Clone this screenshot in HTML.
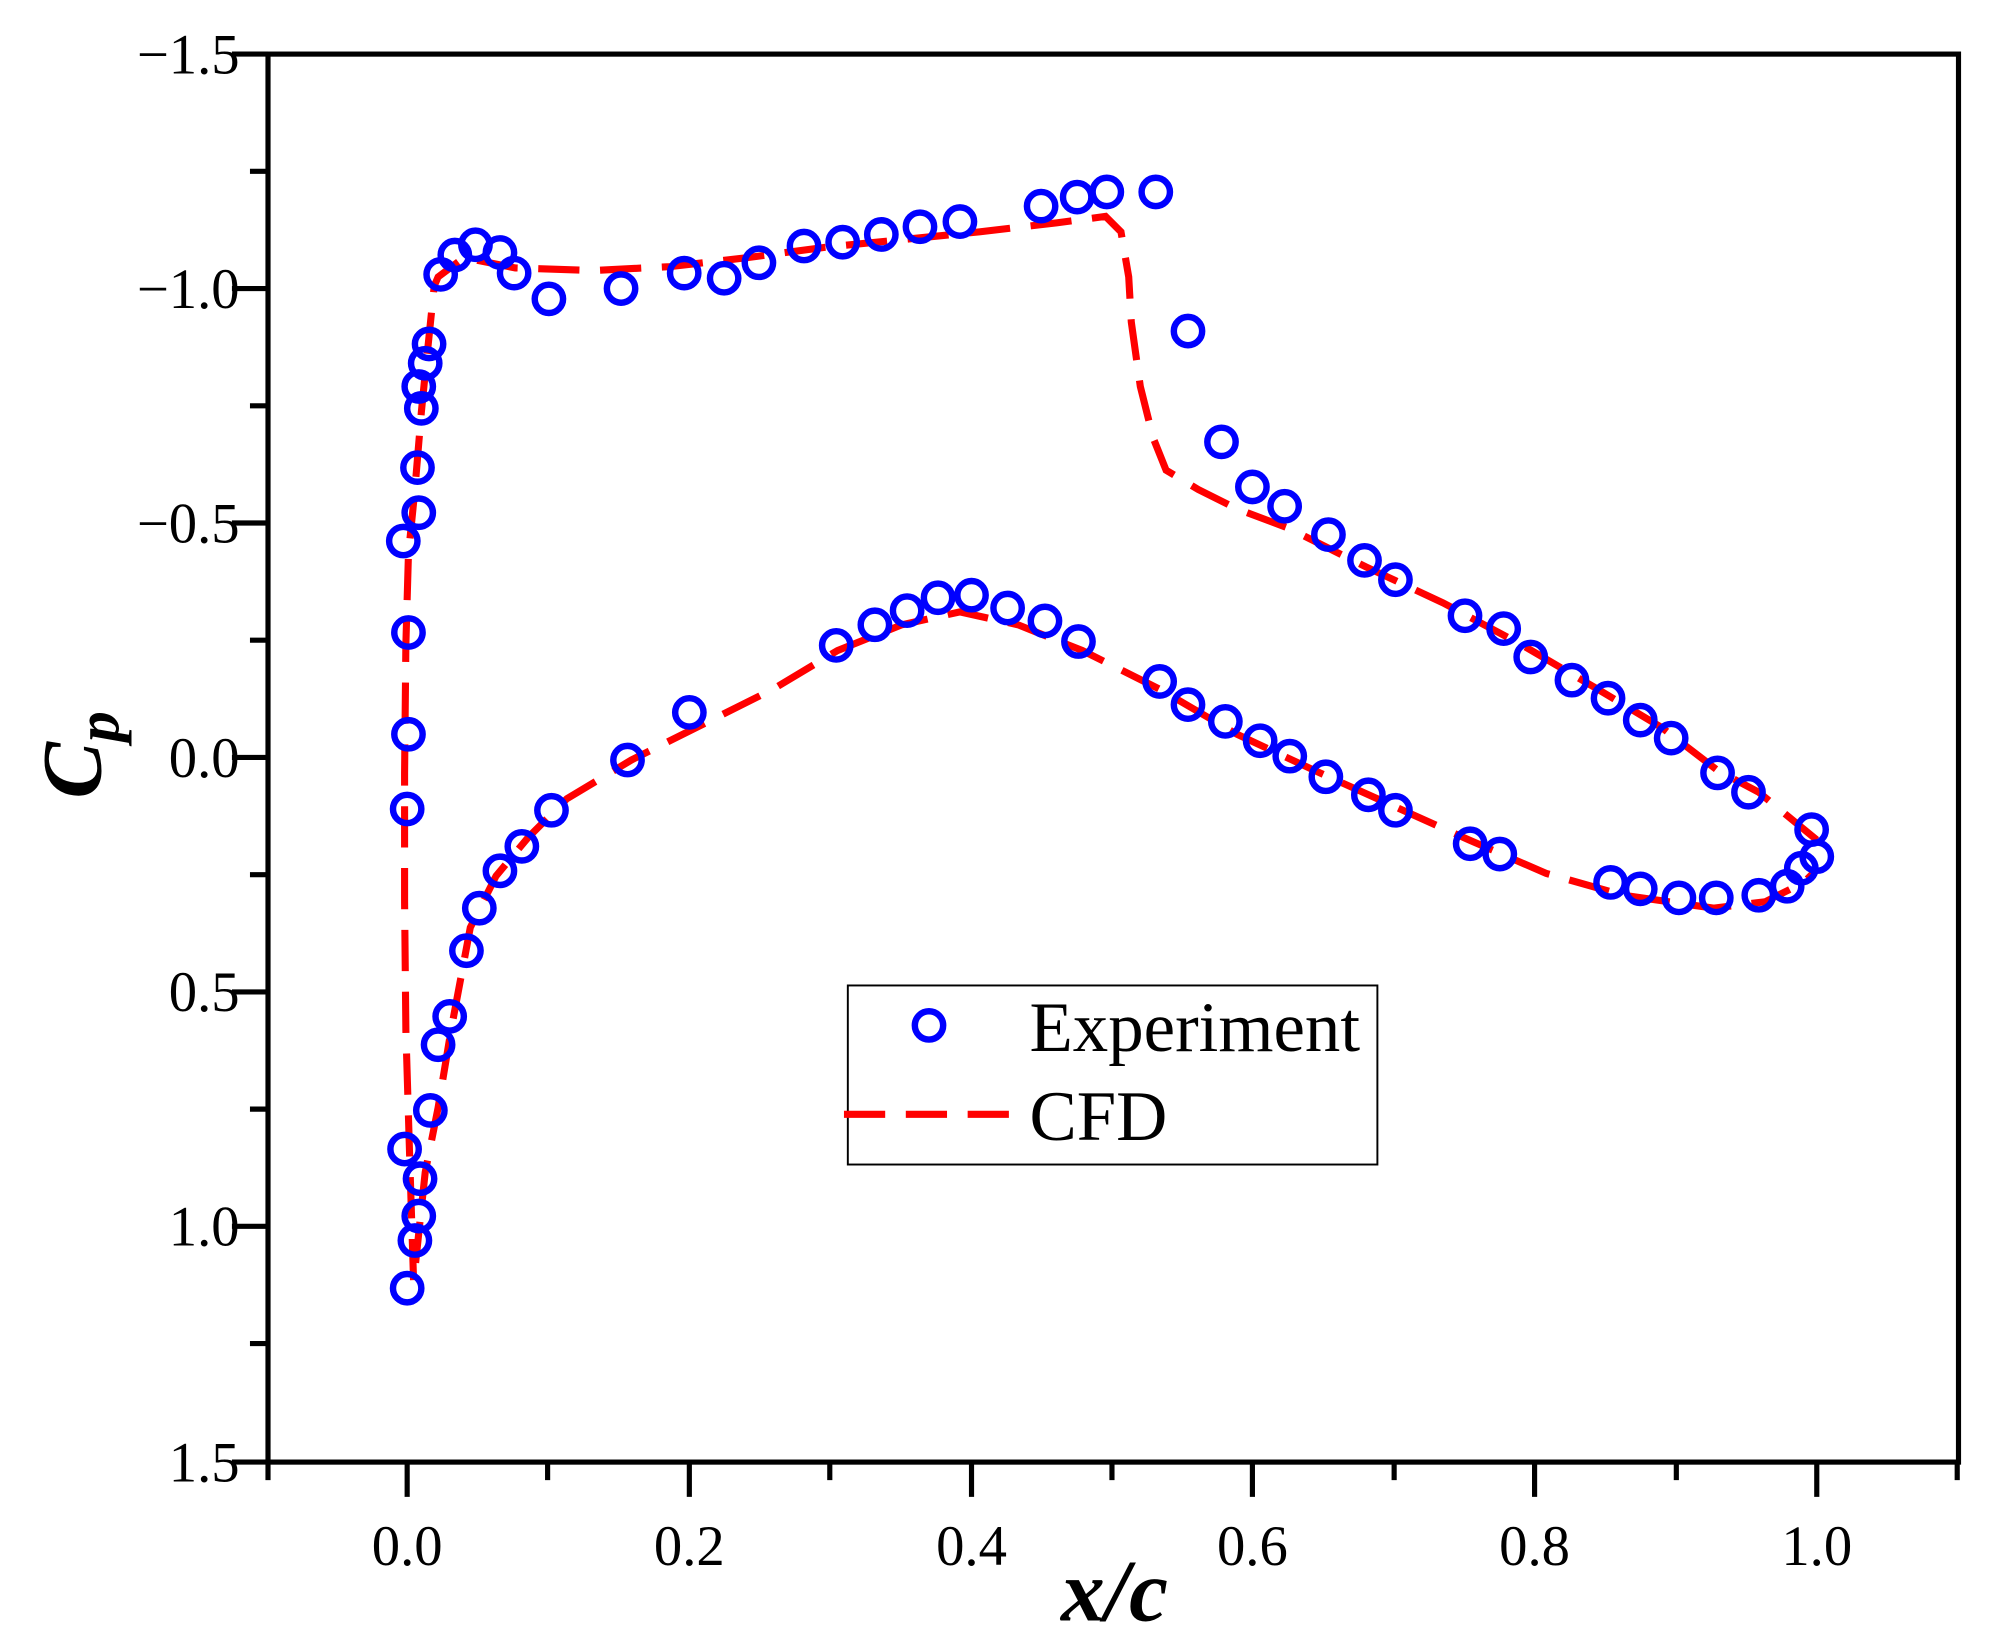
<!DOCTYPE html>
<html><head><meta charset="utf-8"><style>html,body{margin:0;padding:0;background:#fff}svg{display:block}</style></head>
<body>
<svg width="1992" height="1636" viewBox="0 0 1546 1270" preserveAspectRatio="none" xmlns="http://www.w3.org/2000/svg" font-family="Liberation Serif, serif">
<rect width="1546" height="1270" fill="#fff"/>
<!-- CFD -->
<path fill="none" stroke="#ff0000" stroke-width="5.5" stroke-dasharray="32,16" d="M1410,652 L1365,615 L1333,598 L1290,565 L1240,535 L1180,500 L1120,468 L1060,440 L1000,410 L960,395 L930,380 L905,365 L895,340 L885,300 L878,250 L876,215 L870,180 L858,168 L820,173 L760,180 L700,186 L640,192 L580,200 L520,207 L460,210 L400,208 L360,200 L340,215 L337,222 L330,290 L327,320 L322,380 L317,430 L315,500 L314,600 L314,700 L315,800 L318,900 L321,995 L330,910 L340,860 L350,800 L365,720 L385,680 L410,650 L440,620 L490,590 L540,565 L600,535 L650,505 L700,485 L745,475 L790,485 L840,505 L900,535 L960,570 L1020,598 L1080,625 L1140,652 L1200,678 L1260,695 L1330,705 L1370,700 L1400,685 L1410,675"/>
<!-- markers -->
<g fill="none" stroke="#0000ff" stroke-width="5">
<circle cx="316" cy="1000" r="11"/><circle cx="322" cy="963" r="11"/><circle cx="325" cy="944" r="11"/><circle cx="326" cy="915" r="11"/><circle cx="314" cy="892" r="11"/><circle cx="334" cy="862" r="11"/><circle cx="340" cy="811" r="11"/><circle cx="349" cy="789" r="11"/><circle cx="362" cy="738" r="11"/><circle cx="372" cy="705" r="11"/><circle cx="388" cy="676" r="11"/><circle cx="405" cy="657" r="11"/><circle cx="428" cy="629" r="11"/><circle cx="487" cy="590" r="11"/><circle cx="535" cy="553" r="11"/><circle cx="649" cy="501" r="11"/><circle cx="679" cy="485" r="11"/><circle cx="704" cy="474" r="11"/><circle cx="728" cy="464" r="11"/><circle cx="754" cy="462" r="11"/><circle cx="782" cy="472" r="11"/><circle cx="811" cy="482" r="11"/><circle cx="837" cy="498" r="11"/><circle cx="900" cy="529" r="11"/><circle cx="922" cy="547" r="11"/><circle cx="951" cy="560" r="11"/><circle cx="978" cy="575" r="11"/><circle cx="1001" cy="587" r="11"/><circle cx="1029" cy="603" r="11"/><circle cx="1062" cy="617" r="11"/><circle cx="1083" cy="629" r="11"/><circle cx="1141" cy="655" r="11"/><circle cx="1164" cy="663" r="11"/><circle cx="1250" cy="685" r="11"/><circle cx="1273" cy="690" r="11"/><circle cx="1303" cy="697" r="11"/><circle cx="1332" cy="697" r="11"/><circle cx="1365" cy="695" r="11"/><circle cx="1387" cy="688" r="11"/><circle cx="1398" cy="674" r="11"/><circle cx="1410" cy="665" r="11"/><circle cx="1406" cy="644" r="11"/>
<circle cx="316" cy="628" r="11"/><circle cx="317" cy="570" r="11"/><circle cx="317" cy="491" r="11"/><circle cx="313" cy="420" r="11"/><circle cx="325" cy="398" r="11"/><circle cx="324" cy="363" r="11"/><circle cx="327" cy="317" r="11"/><circle cx="325" cy="300" r="11"/><circle cx="330" cy="282" r="11"/><circle cx="333" cy="267" r="11"/><circle cx="342" cy="213" r="11"/><circle cx="353" cy="198" r="11"/><circle cx="369" cy="190" r="11"/><circle cx="388" cy="196" r="11"/><circle cx="399" cy="212" r="11"/><circle cx="426" cy="232" r="11"/><circle cx="482" cy="224" r="11"/><circle cx="531" cy="212" r="11"/><circle cx="562" cy="216" r="11"/><circle cx="589" cy="204" r="11"/><circle cx="624" cy="191" r="11"/><circle cx="654" cy="188" r="11"/><circle cx="684" cy="182" r="11"/><circle cx="714" cy="176" r="11"/><circle cx="745" cy="172" r="11"/><circle cx="808" cy="160" r="11"/><circle cx="836" cy="153" r="11"/><circle cx="859" cy="149" r="11"/><circle cx="897" cy="149" r="11"/><circle cx="922" cy="257" r="11"/><circle cx="948" cy="343" r="11"/><circle cx="972" cy="378" r="11"/><circle cx="997" cy="393" r="11"/><circle cx="1031" cy="415" r="11"/><circle cx="1059" cy="435" r="11"/><circle cx="1083" cy="450" r="11"/><circle cx="1137" cy="478" r="11"/><circle cx="1167" cy="488" r="11"/><circle cx="1188" cy="510" r="11"/><circle cx="1220" cy="528" r="11"/><circle cx="1248" cy="542" r="11"/><circle cx="1273" cy="559" r="11"/><circle cx="1297" cy="573" r="11"/><circle cx="1333" cy="600" r="11"/><circle cx="1357" cy="615" r="11"/>
</g>
<!-- axes -->
<rect x="208" y="42" width="1312" height="1093" fill="none" stroke="#000" stroke-width="4"/>
<g stroke="#000" stroke-width="4">
<line x1="180" y1="42" x2="208" y2="42"/><line x1="180" y1="224" x2="208" y2="224"/><line x1="180" y1="406" x2="208" y2="406"/><line x1="180" y1="588" x2="208" y2="588"/><line x1="180" y1="770" x2="208" y2="770"/><line x1="180" y1="952" x2="208" y2="952"/><line x1="180" y1="1135" x2="208" y2="1135"/>
<line x1="194" y1="133" x2="208" y2="133"/><line x1="194" y1="315" x2="208" y2="315"/><line x1="194" y1="497" x2="208" y2="497"/><line x1="194" y1="679" x2="208" y2="679"/><line x1="194" y1="861" x2="208" y2="861"/><line x1="194" y1="1043" x2="208" y2="1043"/>
<line x1="316" y1="1135" x2="316" y2="1162"/><line x1="535" y1="1135" x2="535" y2="1162"/><line x1="754" y1="1135" x2="754" y2="1162"/><line x1="972" y1="1135" x2="972" y2="1162"/><line x1="1191" y1="1135" x2="1191" y2="1162"/><line x1="1410" y1="1135" x2="1410" y2="1162"/>
<line x1="208" y1="1135" x2="208" y2="1149"/><line x1="425" y1="1135" x2="425" y2="1149"/><line x1="644" y1="1135" x2="644" y2="1149"/><line x1="863" y1="1135" x2="863" y2="1149"/><line x1="1082" y1="1135" x2="1082" y2="1149"/><line x1="1301" y1="1135" x2="1301" y2="1149"/><line x1="1519" y1="1135" x2="1519" y2="1149"/>
</g>
<g font-size="44" text-anchor="end">
<text x="186" y="57">−1.5</text><text x="186" y="239">−1.0</text><text x="186" y="421">−0.5</text><text x="186" y="603">0.0</text><text x="186" y="785">0.5</text><text x="186" y="967">1.0</text><text x="186" y="1150">1.5</text>
</g>
<g font-size="44" text-anchor="middle">
<text x="316" y="1215">0.0</text><text x="535" y="1215">0.2</text><text x="754" y="1215">0.4</text><text x="972" y="1215">0.6</text><text x="1191" y="1215">0.8</text><text x="1410" y="1215">1.0</text>
</g>
<text x="865" y="1258" font-size="68" font-weight="bold" font-style="italic" text-anchor="middle">x/c</text>
<text transform="translate(78,586) rotate(-90)" font-size="66" font-weight="bold" font-style="italic" text-anchor="middle">C<tspan font-size="48" dy="14">p</tspan></text>
<!-- legend -->
<rect x="658" y="765" width="411" height="139" fill="#fff" stroke="#000" stroke-width="1.5"/>
<circle cx="721" cy="796" r="11" fill="none" stroke="#0000ff" stroke-width="5"/>
<text x="799" y="816" font-size="55">Experiment</text>
<line x1="655" y1="865" x2="785" y2="865" stroke="#ff0000" stroke-width="5.5" stroke-dasharray="32,16"/>
<text x="799" y="885" font-size="55">CFD</text>
</svg>
</body></html>
